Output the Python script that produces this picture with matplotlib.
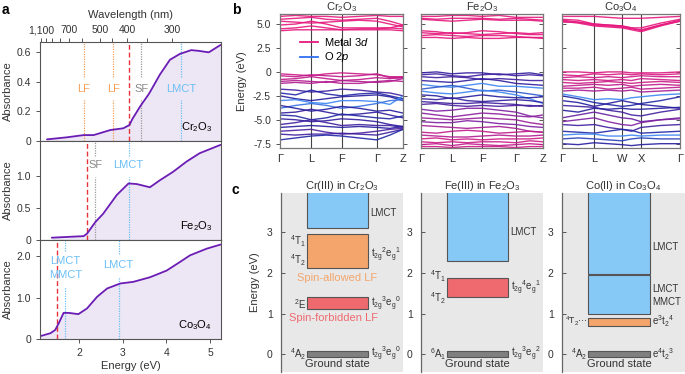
import matplotlib
matplotlib.use("Agg")
import matplotlib.pyplot as plt
import numpy as np
from matplotlib.colors import LinearSegmentedColormap
from matplotlib.lines import Line2D

plt.rcParams["font.family"] = ["Liberation Sans", "DejaVu Sans"]
plt.rcParams["mathtext.fontset"] = "custom"
plt.rcParams["mathtext.rm"] = "Liberation Sans"
plt.rcParams["mathtext.it"] = "Liberation Sans:italic"
plt.rcParams["mathtext.default"] = "regular"
plt.rcParams["axes.unicode_minus"] = False
plt.rcParams["font.size"] = 7.5

# ---------------- panel a: absorbance spectra ----------------
cr_energy = [1.26, 1.72, 2.10, 2.33, 2.71, 3.01, 3.15, 3.22, 3.41, 3.60, 3.85, 4.08, 4.31, 4.57, 4.74, 4.97, 5.24]
cr_abs = [0.011, 0.025, 0.04, 0.04, 0.074, 0.086, 0.108, 0.15, 0.24, 0.32, 0.45, 0.55, 0.59, 0.615, 0.61, 0.60, 0.65]
fe_energy = [1.37, 2.10, 2.18, 2.37, 2.55, 2.86, 3.13, 3.32, 3.62, 3.85, 4.15, 4.46, 4.76, 5.24]
fe_abs = [0.036, 0.06, 0.10, 0.28, 0.41, 0.70, 0.88, 0.87, 0.82, 0.93, 1.06, 1.22, 1.35, 1.48]
co_energy = [1.11, 1.34, 1.45, 1.53, 1.64, 1.76, 1.98, 2.18, 2.41, 2.64, 2.94, 3.24, 3.62, 4.00, 4.31, 4.54, 4.92, 5.24]
co_abs = [0.07, 0.14, 0.22, 0.38, 0.63, 0.63, 0.60, 0.74, 1.02, 1.22, 1.34, 1.38, 1.49, 1.65, 1.86, 2.02, 2.18, 2.28]

# transition markers: energy, kind, label, label height, gap (lo, hi)
cr_mark_e = [2.10, 2.78, 3.15, 3.42, 4.33]
cr_mark_kind = ["lf", "lf", "gap", "sf", "ct"]
cr_mark_text = ["LF", "LF", "", "SF", "LMCT"]
cr_mark_y = [0.35, 0.35, 0, 0.35, 0.35]
cr_mark_gap = [(0.28, 0.43), (0.28, 0.43), (0, 0), (0.28, 0.43), (0.28, 0.43)]
fe_mark_e = [2.18, 2.37, 3.13]
fe_mark_kind = ["gap", "sf", "ct"]
fe_mark_text = ["", "SF", "LMCT"]
fe_mark_y = [0, 1.17, 1.17]
fe_mark_gap = [(0, 0), (0.98, 1.30), (0.98, 1.30)]
co_mark_e = [1.50, 1.68, 2.90]
co_mark_kind = ["gap", "ct", "ct"]
co_mark_text = ["", "LMCT\nMMCT", "LMCT"]
co_mark_y = [0, 1.71, 1.78]
co_mark_gap = [(0, 0), (1.25, 2.12), (1.50, 2.05)]

wl_major = [1100, 700, 500, 400, 300]
wl_minor = [1000, 900, 800, 600, 450, 350]

# ---------------- panel b: band structures ----------------
cr_kpath = ["Γ", "L", "F", "Γ", "Z"]
cr_kpos = [0, 0.254, 0.50, 0.787, 1.0]
cr_knodes = [0, 0.127, 0.254, 0.377, 0.50, 0.643, 0.787, 0.893, 1.0]
cr_bands = [
    [5.8, 5.9, 5.8, 5.8, 5.7, 5.8, 5.9, 5.8, 5.8],
    [5.5, 5.6, 5.7, 5.5, 5.4, 5.5, 5.6, 5.3, 4.9],
    [5.3, 5.2, 5.1, 5.2, 5.3, 5.4, 5.3, 5.0, 4.7],
    [4.9, 5.0, 5.3, 5.0, 4.6, 4.6, 4.6, 4.6, 4.5],
    [4.5, 4.6, 4.8, 4.6, 4.4, 4.5, 4.5, 4.6, 4.9],
    [4.3, 4.4, 4.4, 4.4, 4.4, 4.4, 4.4, 4.4, 4.3],
    [-0.2, -0.3, -0.4, -0.2, -0.1, -0.2, -0.3, -0.5, -0.5],
    [-0.4, -0.5, -0.3, -0.4, -0.5, -0.4, -0.2, -0.6, -0.6],
    [-0.8, -0.7, -0.5, -0.7, -0.9, -0.8, -0.6, -0.7, -0.6],
    [-1.0, -0.9, -1.0, -1.1, -0.9, -1.0, -1.1, -1.0, -0.7],
    [-1.2, -1.1, -1.2, -1.0, -1.2, -1.2, -1.0, -0.9, -1.0],
    [-1.8, -1.9, -2.1, -2.0, -1.8, -1.9, -2.1, -2.2, -2.5],
    [-2.2, -2.4, -1.9, -2.3, -2.5, -2.3, -2.2, -2.5, -2.8],
    [-2.5, -2.8, -3.0, -2.8, -2.6, -2.5, -2.4, -2.6, -3.0],
    [-3.0, -2.9, -3.2, -3.3, -3.0, -3.0, -3.1, -3.4, -2.5],
    [-3.8, -3.5, -3.3, -3.5, -3.8, -3.6, -3.3, -3.0, -2.9],
    [-3.5, -3.8, -4.1, -3.9, -3.6, -3.8, -4.1, -4.0, -4.3],
    [-4.3, -4.2, -3.9, -4.2, -4.5, -4.4, -4.2, -4.5, -4.8],
    [-4.5, -4.6, -5.0, -4.8, -4.4, -4.6, -4.8, -4.9, -4.6],
    [-4.9, -5.0, -5.2, -5.1, -4.9, -5.0, -5.2, -5.5, -5.7],
    [-5.5, -5.3, -5.0, -5.3, -5.6, -5.5, -5.6, -5.6, -5.8],
    [-5.8, -5.7, -5.6, -5.7, -5.8, -5.7, -5.8, -5.9, -5.7],
    [-6.2, -6.1, -6.0, -6.3, -6.5, -6.4, -6.2, -6.0, -5.9],
    [-6.5, -6.6, -6.5, -6.5, -6.4, -6.5, -6.6, -6.3, -6.0],
    [-7.1, -6.9, -6.7, -6.6, -6.7, -6.9, -7.1, -6.6, -6.0],
]
cr_weights = [1.0, 1.0, 1.0, 1.0, 1.0, 1.0, 0.9, 0.85, 0.85, 0.8, 0.8,
              0.35, 0.2, 0.25, 0.0, 0.05, 0.25, 0.3, 0.2, 0.3, 0.35, 0.25, 0.4, 0.35, 0.2]

fe_kpath = ["Γ", "L", "F", "Γ", "Z"]
fe_kpos = [0, 0.253, 0.50, 0.777, 1.0]
fe_knodes = [0, 0.127, 0.253, 0.377, 0.50, 0.64, 0.777, 0.89, 1.0]
fe_bands = [
    [5.8, 5.8, 5.9, 5.9, 5.8, 5.9, 5.7, 5.7, 5.7],
    [5.6, 5.5, 5.6, 5.6, 5.6, 5.5, 5.6, 5.5, 5.4],
    [5.5, 5.4, 5.3, 5.4, 5.5, 5.4, 5.4, 5.4, 5.3],
    [4.3, 4.2, 4.0, 4.1, 4.3, 4.2, 4.0, 3.9, 3.9],
    [4.1, 4.0, 4.1, 4.0, 3.9, 4.0, 4.1, 4.0, 4.1],
    [3.8, 3.9, 3.8, 3.7, 3.8, 3.8, 3.7, 3.6, 3.6],
    [3.6, 3.6, 3.5, 3.6, 3.5, 3.5, 3.6, 3.6, 3.5],
    [-0.1, 0.0, -0.2, -0.1, -0.1, -0.3, -0.2, -0.1, -0.3],
    [-0.3, -0.2, -0.4, -0.5, -0.3, -0.2, -0.4, -0.3, -0.4],
    [-0.5, -0.6, -0.5, -0.6, -0.8, -0.7, -0.8, -0.9, -0.9],
    [-0.9, -1.0, -1.1, -0.9, -0.7, -0.9, -1.2, -1.3, -1.4],
    [-1.3, -1.5, -1.6, -1.4, -1.2, -1.5, -1.5, -1.6, -1.7],
    [-1.8, -1.6, -1.4, -1.7, -2.0, -1.9, -2.1, -2.3, -2.5],
    [-2.0, -2.2, -2.3, -2.1, -1.9, -2.1, -2.4, -2.8, -3.3],
    [-2.4, -2.5, -2.8, -2.6, -2.4, -2.6, -2.7, -2.7, -2.6],
    [-2.8, -2.9, -2.7, -3.0, -3.1, -3.0, -2.9, -3.0, -3.2],
    [-3.1, -3.2, -3.3, -3.3, -3.2, -3.3, -3.4, -3.6, -3.5],
    [-3.4, -3.3, -3.5, -3.6, -3.5, -3.6, -3.5, -3.5, -3.6],
    [-3.9, -4.1, -4.0, -3.8, -3.8, -4.0, -4.2, -4.6, -4.8],
    [-4.3, -4.5, -4.7, -4.5, -4.3, -4.4, -4.6, -4.7, -4.5],
    [-4.8, -4.9, -5.0, -4.9, -4.8, -4.9, -5.0, -5.3, -5.5],
    [-5.2, -5.3, -5.3, -5.1, -5.2, -5.4, -5.5, -5.7, -5.8],
    [-5.6, -5.7, -5.8, -5.9, -5.8, -5.7, -5.9, -6.2, -6.3],
    [-6.3, -6.4, -6.2, -6.1, -6.2, -6.4, -6.3, -6.2, -6.3],
    [-6.6, -6.7, -6.8, -6.8, -6.7, -6.6, -6.7, -6.7, -6.6],
    [-7.0, -6.9, -7.1, -7.0, -7.1, -7.0, -7.0, -7.0, -6.9],
    [-7.3, -7.4, -7.3, -7.4, -7.3, -7.3, -7.4, -7.2, -7.3],
    [-7.6, -7.5, -7.7, -7.5, -7.6, -7.7, -7.6, -7.5, -7.6],
    [-7.8, -7.8, -7.9, -7.8, -7.8, -7.8, -7.9, -7.8, -7.8],
]
fe_weights = [1.0, 1.0, 1.0, 1.0, 1.0, 1.0, 1.0,
              0.3, 0.35, 0.35, 0.3, 0.0, 0.1, 0.0, 0.25, 0.3, 0.35, 0.4,
              0.6, 0.65, 0.7, 0.6, 0.75, 0.85, 0.8, 0.9, 0.9, 0.85, 0.9]

co_kpath = ["Γ", "L", "W", "X", "Γ"]
co_kpos = [0, 0.273, 0.508, 0.67, 1.0]
co_knodes = [0, 0.137, 0.273, 0.39, 0.508, 0.589, 0.67, 0.835, 1.0]
co_bands = [
    [5.8, 5.8, 5.8, 5.7, 5.6, 5.6, 5.6, 5.7, 5.8],
    [5.5, 5.4, 5.0, 4.9, 4.8, 4.6, 4.6, 5.1, 5.5],
    [5.4, 5.2, 4.9, 4.8, 4.7, 4.5, 4.4, 4.9, 5.4],
    [5.3, 5.1, 4.8, 4.7, 4.6, 4.4, 4.2, 4.8, 5.3],
    [5.2, 5.2, 5.0, 4.9, 4.8, 4.6, 4.3, 4.9, 5.3],
    [0.0, 0.0, -0.1, 0.0, 0.0, -0.1, -0.1, -0.1, 0.0],
    [-0.3, -0.4, -0.2, -0.3, -0.2, -0.3, -0.2, -0.3, -0.2],
    [-0.6, -0.5, -0.6, -0.5, -0.6, -0.5, -0.4, -0.5, -0.5],
    [-0.8, -0.9, -0.8, -0.9, -0.8, -0.9, -0.7, -0.8, -0.9],
    [-1.1, -1.2, -1.1, -1.0, -1.1, -1.2, -1.1, -1.0, -1.1],
    [-1.5, -1.4, -1.3, -1.4, -1.3, -1.5, -1.4, -1.3, -1.4],
    [-1.7, -1.7, -1.6, -1.8, -1.7, -1.6, -1.8, -1.7, -1.6],
    [-2.0, -1.9, -2.0, -1.9, -2.0, -1.9, -2.1, -2.0, -1.9],
    [-2.3, -2.6, -2.9, -2.8, -2.9, -2.7, -2.6, -2.4, -2.3],
    [-2.5, -2.8, -3.2, -3.4, -3.6, -3.5, -3.3, -3.0, -2.6],
    [-3.0, -3.2, -3.6, -3.3, -3.0, -3.2, -3.4, -3.6, -3.8],
    [-3.5, -3.6, -3.7, -4.0, -4.2, -4.5, -4.6, -4.2, -3.9],
    [-4.0, -4.2, -3.8, -3.9, -3.8, -3.9, -3.9, -3.8, -3.7],
    [-4.8, -4.5, -4.2, -4.5, -4.8, -4.9, -5.2, -5.0, -4.8],
    [-5.2, -5.0, -4.8, -5.2, -5.5, -5.6, -5.3, -5.0, -4.9],
    [-5.5, -5.6, -5.5, -5.8, -6.0, -6.2, -5.8, -5.6, -5.5],
    [-6.2, -6.3, -6.4, -6.2, -6.0, -6.1, -6.4, -6.3, -6.2],
    [-6.6, -6.5, -6.5, -6.7, -6.7, -6.6, -6.7, -6.6, -6.6],
    [-7.0, -6.9, -7.0, -7.1, -7.2, -7.0, -6.9, -7.0, -7.0],
    [-7.5, -7.6, -7.4, -7.5, -7.6, -7.7, -7.6, -7.5, -7.5],
]
co_weights = [1.0, 1.0, 1.0, 1.0, 1.0,
              0.95, 0.95, 0.9, 0.9, 0.9, 0.85, 0.85, 0.75,
              0.0, 0.2, 0.25, 0.35, 0.25, 0.5, 0.6, 0.35, 0.2, 0.0, 0.15, 0.25]

# ---------------- panel c: energy level diagrams ----------------
cr_lvl_lo = [3.10, 2.12, 1.10, -0.08]
cr_lvl_hi = [4.20, 2.97, 1.41, 0.07]
cr_lvl_kind = ["ct", "lf", "sf", "gs"]
fe_lvl_lo = [2.29, 1.42, -0.08]
fe_lvl_hi = [4.20, 1.87, 0.07]
fe_lvl_kind = ["ct", "sf", "gs"]
co_lvl_lo = [1.97, 0.98, 0.70, -0.08]
co_lvl_hi = [4.20, 1.94, 0.89, 0.07]
co_lvl_kind = ["ct", "ct", "lf", "gs"]

cr_left_text = [r"$^4$T$_1$", r"$^4$T$_2$", r"$^2$E", r"$^4$A$_2$"]
cr_left_y = [2.79, 2.32, 1.23, 0.0]
cr_right_text = ["LMCT", r"t$_{2g}$$^2$e$_g$$^1$", r"t$_{2g}$$^3$e$_g$$^0$", r"t$_{2g}$$^3$e$_g$$^0$"]
cr_right_y = [3.48, 2.44, 1.23, 0.0]
fe_left_text = [r"$^4$T$_1$", r"$^4$T$_2$", r"$^6$A$_1$"]
fe_left_y = [1.91, 1.38, 0.0]
fe_right_text = ["LMCT", r"t$_{2g}$$^4$e$_g$$^1$", r"t$_{2g}$$^3$e$_g$$^2$"]
fe_right_y = [3.0, 1.62, 0.0]
co_left_text = [r"$^4$T$_2$···", r"$^4$A$_2$"]
co_left_y = [0.80, 0.0]
co_right_text = ["LMCT", "LMCT", "MMCT", r"e$^3$t$_2$$^4$", r"e$^4$t$_2$$^3$"]
co_right_y = [2.65, 1.60, 1.29, 0.80, 0.0]

# ---------------- styles ----------------
W, H = 685, 374
curve_color = "#6a1cb5"
fill_color = "#ede6f4"
mark_style = {
    "gap": ("#e8333a", (0, (3.5, 2))),
    "lf": ("#f5a05a", (0, (1, 1))),
    "sf": ("#9a9a9a", (0, (1, 1))),
    "ct": ("#6cbff5", (0, (1, 1))),
}
box_color = {"ct": "#86c9f7", "lf": "#f3a56c", "sf": "#ef6a6f", "gs": "#808080"}
band_cmap = LinearSegmentedColormap.from_list(
    "bands", [(0, "#3c86f2"), (0.22, "#1e1e9e"), (0.6, "#8020a2"), (1, "#e6187d")])
spine_col = "#555555"
text_col = "#333333"

fig = plt.figure(figsize=(W / 100, H / 100), dpi=100)


def add_ax(x0, y0, x1, y1):
    return fig.add_axes([x0 / W, 1 - y1 / H, (x1 - x0) / W, (y1 - y0) / H])


# panel a
spectra = [
    (cr_energy, cr_abs, (0, 0.67), [0, 0.2, 0.4, 0.6], ["0", "0.2", "0.4", "0.6"], r"Cr$_2$O$_3$",
     cr_mark_e, cr_mark_kind, cr_mark_text, cr_mark_y, cr_mark_gap),
    (fe_energy, fe_abs, (0, 1.54), [0, 0.5, 1.0], ["0", "0.5", "1.0"], r"Fe$_2$O$_3$",
     fe_mark_e, fe_mark_kind, fe_mark_text, fe_mark_y, fe_mark_gap),
    (co_energy, co_abs, (0, 2.39), [0, 1.0, 2.0], ["0", "1.0", "2.0"], r"Co$_3$O$_4$",
     co_mark_e, co_mark_kind, co_mark_text, co_mark_y, co_mark_gap),
]
a_axes = []
for i, (E, A, ylim, yt, ytl, name, me, mk, mt, my, mg) in enumerate(spectra):
    ax = add_ax(40, 42 + 99 * i, 221, 141 + 99 * i)
    ax.fill_between(E, A, 0, color=fill_color, lw=0)
    for e, k, t, ty, (g0, g1) in zip(me, mk, mt, my, mg):
        col, ls = mark_style[k]
        lw = 1.0 if k == "gap" else 0.9
        if g1 > g0:
            ax.plot([e, e], [0, g0], color=col, ls=ls, lw=lw)
            ax.plot([e, e], [g1, ylim[1]], color=col, ls=ls, lw=lw)
        else:
            ax.plot([e, e], [0, ylim[1]], color=col, ls=ls, lw=lw)
        if t:
            ax.text(e, ty, t, color=col if k != "sf" else "#8a8a8a", ha="center", va="center",
                    fontsize=8, linespacing=1.45)
    ax.plot(E, A, color=curve_color, lw=1.3, solid_capstyle="round")
    ax.set_xlim(1.1, 5.25)
    ax.set_ylim(*ylim)
    ax.set_yticks(yt)
    ax.set_yticklabels(ytl)
    ax.set_ylabel("Absorbance", fontsize=8, color=text_col)
    ax.yaxis.set_label_coords(-0.15, 0.5)
    ax.text(0.95, 0.07, name, transform=ax.transAxes, ha="right", va="bottom", fontsize=8)
    for s in ax.spines.values():
        s.set_color(spine_col)
        s.set_linewidth(0.8)
    ax.tick_params(colors=spine_col, labelcolor=text_col, labelsize=7.5, length=3, width=0.7)
    if i < 2:
        ax.set_xticks([])
    else:
        ax.set_xticks([2, 3, 4, 5])
        ax.set_xlabel("Energy (eV)", fontsize=8, color=text_col, labelpad=2)
    a_axes.append(ax)

top = a_axes[0].twiny()
top.set_xlim(a_axes[0].get_xlim())
top.set_xticks([1239.84 / w for w in wl_major])
top.set_xticklabels(["1,100", "700", "500", "400", "300"])
top.set_xticks([1239.84 / w for w in wl_minor], minor=True)
top.tick_params(colors=spine_col, labelcolor=text_col, labelsize=7.5, length=3, width=0.7, pad=2)
top.tick_params(which="minor", length=3, width=0.7, colors=spine_col)
top.set_xlabel("Wavelength (nm)", fontsize=8, color=text_col, labelpad=5)
for s in top.spines.values():
    s.set_visible(False)

# panel b
band_sets = [
    (r"Cr$_2$O$_3$", cr_knodes, cr_bands, cr_weights, cr_kpos, cr_kpath, 280, 403),
    (r"Fe$_2$O$_3$", fe_knodes, fe_bands, fe_weights, fe_kpos, fe_kpath, 421, 543),
    (r"Co$_3$O$_4$", co_knodes, co_bands, co_weights, co_kpos, co_kpath, 562, 680),
]
for i, (name, kn, bands, wts, kpos, kpath, x0, x1) in enumerate(band_sets):
    ax = add_ax(x0, 14, x1, 148)
    for p in kpos[1:-1]:
        ax.axvline(p, color="#444444", lw=0.8, zorder=0)
    for e, w in zip(bands, wts):
        ax.plot(kn, e, color=band_cmap(float(w)), lw=1.0, alpha=0.9)
    ax.set_xlim(0, 1)
    ax.set_ylim(-7.95, 6.05)
    ax.set_xticks(kpos)
    ax.set_xticklabels(kpath, fontsize=8)
    ax.tick_params(axis="x", length=0, pad=4, labelcolor=text_col)
    ax.set_yticks([-7.5, -5, -2.5, 0, 2.5, 5])
    ax.set_title(name, fontsize=8, pad=2, color=text_col)
    for s in ax.spines.values():
        s.set_color("#777777")
        s.set_linewidth(0.9)
    if i == 0:
        ax.set_yticklabels(["-7.5", "-5.0", "-2.5", "0", "2.5", "5.0"])
        ax.tick_params(axis="y", direction="out", length=3, width=0.7, colors=spine_col,
                       labelcolor=text_col, labelsize=7.5, right=True)
        ax.set_ylabel("Energy (eV)", fontsize=8, color=text_col)
        ax.yaxis.set_label_coords(-0.27, 0.5)
        handles = [Line2D([], [], color="#e6187d", lw=1.3), Line2D([], [], color="#2f6ff0", lw=1.3)]
        ax.legend(handles, [r"Metal 3$\mathit{d}$", r"O 2$\mathit{p}$"], loc="upper left",
                  bbox_to_anchor=(0.12, 0.88), frameon=False, fontsize=8, handlelength=1.6,
                  handletextpad=0.5, labelspacing=0.25, borderpad=0)
    else:
        ax.set_yticklabels([])
        ax.tick_params(axis="y", direction="in", length=3, width=0.7, colors=spine_col,
                       right=True)

# panel c
level_sets = [
    ("Cr(III) in Cr$_2$O$_3$", cr_lvl_lo, cr_lvl_hi, cr_lvl_kind, cr_left_text, cr_left_y,
     cr_right_text, cr_right_y, 281, 403),
    ("Fe(III) in Fe$_2$O$_3$", fe_lvl_lo, fe_lvl_hi, fe_lvl_kind, fe_left_text, fe_left_y,
     fe_right_text, fe_right_y, 421, 543),
    ("Co(II) in Co$_3$O$_4$", co_lvl_lo, co_lvl_hi, co_lvl_kind, co_left_text, co_left_y,
     co_right_text, co_right_y, 562, 685),
]
for i, (name, lo, hi, kinds, lt, ly, rt, ry, x0, x1) in enumerate(level_sets):
    ax = add_ax(x0, 193, x1, 372)
    ax.set_facecolor("#e8e8e8")
    for b0, b1, k in zip(lo, hi, kinds):
        ax.bar(0.4625, b1 - b0, bottom=b0, width=0.505, color=box_color[k],
               edgecolor="#555555", linewidth=0.8)
    for t, y in zip(lt, ly):
        fs = 6.3 if "·" in t else 7
        ax.text(0.205, y, t, ha="right", va="center", fontsize=fs, color=text_col)
    for t, y in zip(rt, ry):
        ax.text(0.735, y, t, ha="left", va="center", fontsize=7, color=text_col)
    ax.text(0.465, -0.25, "Ground state", ha="center", va="center", fontsize=8, color=text_col)
    if i == 0:
        ax.text(0.46, 1.88, "Spin-allowed LF", ha="center", va="center", fontsize=8,
                color="#f3a56c")
        ax.text(0.43, 0.88, "Spin-forbidden LF", ha="center", va="center", fontsize=8,
                color="#ef6a6f")
        ax.set_ylabel("Energy (eV)", fontsize=8, color=text_col)
        ax.yaxis.set_label_coords(-0.17, 0.5)
    ax.set_xlim(0, 1)
    ax.set_ylim(-0.44, 3.97)
    ax.set_xticks([])
    ax.set_yticks([0, 1, 2, 3])
    ax.tick_params(axis="y", direction="in", length=3, width=0.7, colors=spine_col,
                   labelcolor=text_col, labelsize=7.5, pad=6)
    for k in ["top", "right", "bottom"]:
        ax.spines[k].set_visible(False)
    ax.spines["left"].set_color("#666666")
    ax.spines["left"].set_linewidth(0.9)
    ax.set_title(name, fontsize=8, pad=2, color=text_col)

fig.text(2 / W, 1 - 10 / H, "a", fontsize=10, fontweight="bold", va="center")
fig.text(232 / W, 1 - 10 / H, "b", fontsize=10, fontweight="bold", va="center")
fig.text(232 / W, 1 - 190 / H, "c", fontsize=10, fontweight="bold", va="center")

fig.savefig("out.png", dpi=100)
